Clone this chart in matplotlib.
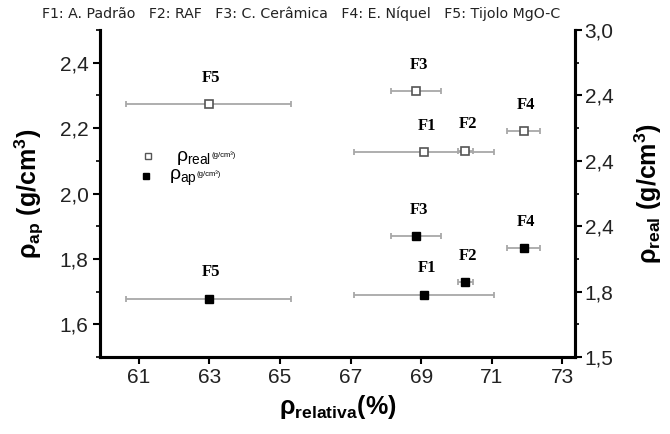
import matplotlib
matplotlib.use("Agg")
import matplotlib.pyplot as plt
from matplotlib.ticker import FixedLocator

plt.rcParams['font.family'] = ['Liberation Sans', 'DejaVu Sans']
plt.rcParams['mathtext.fontset'] = 'custom'
plt.rcParams['mathtext.rm'] = 'Liberation Sans'
plt.rcParams['mathtext.it'] = 'Liberation Sans'
plt.rcParams['mathtext.bf'] = 'Liberation Sans:bold'

# ---- data ----
labels = ["F1", "F2", "F3", "F4", "F5"]
rel_density = [69.08, 70.25, 68.85, 71.9, 62.98]
rel_err = [1.97, 0.22, 0.70, 0.47, 2.33]
rho_ap = [1.691, 1.730, 1.870, 1.833, 1.679]
rho_real = [2.127, 2.131, 2.312, 2.191, 2.273]   # in right-axis plot units

left_ticks = [1.6, 1.8, 2.0, 2.2, 2.4]
left_ticklabels = ["1,6", "1,8", "2,0", "2,2", "2,4"]
right_ticks = [1.5, 1.7, 1.9, 2.1, 2.3, 2.5]
right_ticklabels = ["1,5", "1,8", "2,4", "2,4", "2,4", "3,0"]
x_ticks = [61, 63, 65, 67, 69, 71, 73]

title = "F1: A. Padrão   F2: RAF   F3: C. Cerâmica   F4: E. Níquel   F5: Tijolo MgO-C"

fig = plt.figure(figsize=(6.7, 4.34), dpi=100)
ax = fig.add_axes([0.149, 0.177, 0.709, 0.754])
ax2 = ax.twinx()

ax.set_xlim(59.9, 73.35)
ax.set_ylim(1.5, 2.5)
ax2.set_ylim(1.5, 2.5)

err_kw = dict(fmt='none', ecolor='#a8a8a8', elinewidth=1.3, capsize=2.5, capthick=1.3)
ax.errorbar(rel_density, rho_ap, xerr=rel_err, **err_kw)
ax2.errorbar(rel_density, rho_real, xerr=rel_err, **err_kw)
ax.plot(rel_density, rho_ap, 's', color='black', markersize=6, zorder=5)
ax2.plot(rel_density, rho_real, 's', markerfacecolor='white', markeredgecolor='#555555',
         markeredgewidth=1.2, markersize=6, zorder=5)

lab_kw = dict(textcoords='offset points', xytext=(2, 19), ha='center', va='center',
              fontsize=12, fontweight='bold', family='Liberation Serif')
for xv, yv, t in zip(rel_density, rho_ap, labels):
    ax.annotate(t, (xv, yv), **lab_kw)
for xv, yv, t in zip(rel_density, rho_real, labels):
    ax2.annotate(t, (xv, yv), **lab_kw)

# axes styling
for a in (ax, ax2):
    for s in a.spines.values():
        s.set_linewidth(2.2)
    a.spines['top'].set_visible(False)

ax.xaxis.set_major_locator(FixedLocator(x_ticks))
ax.set_xticklabels([str(v) for v in x_ticks])
ax.yaxis.set_major_locator(FixedLocator(left_ticks))
ax.set_yticklabels(left_ticklabels)
ax.yaxis.set_minor_locator(FixedLocator([1.5, 1.7, 1.9, 2.1, 2.3, 2.5]))
ax2.yaxis.set_major_locator(FixedLocator(right_ticks))
ax2.set_yticklabels(right_ticklabels)
ax2.yaxis.set_minor_locator(FixedLocator([1.6, 1.8, 2.0, 2.2, 2.4]))

ax.tick_params(axis='both', which='major', direction='out', length=5, width=1.5,
               labelsize=15, colors='black', labelcolor='#222222', pad=3)
ax.tick_params(axis='y', which='minor', direction='out', length=3, width=1.2)
ax2.tick_params(axis='y', which='major', direction='out', length=5, width=1.5,
                labelsize=15, labelcolor='#222222', pad=2)
ax2.tick_params(axis='y', which='minor', direction='out', length=3, width=1.2)

ax.set_xlabel(r"$\mathbf{\rho_{relativa}}$(%)", fontsize=18, fontweight='bold', labelpad=4)
ax.set_ylabel(r"$\mathbf{\rho_{ap}}$ (g/cm$^\mathbf{3}$)", fontsize=18, fontweight='bold', labelpad=10)
ax2.set_ylabel(r"$\mathbf{\rho_{real}}$ (g/cm$^\mathbf{3}$)", fontsize=18, fontweight='bold', labelpad=14)

# in-plot legend
ax.plot([61.25], [2.115], 's', markerfacecolor='white', markeredgecolor='#555555',
        markeredgewidth=1.0, markersize=5)
ax.plot([61.2], [2.053], 's', color='black', markersize=5)
ax.text(62.05, 2.108, r"$\rho_{\mathrm{real}}$", fontsize=14, va='center')
ax.text(63.05, 2.118, "(g/cm³)", fontsize=5.5, va='center')
ax.text(61.85, 2.048, r"$\rho_{\mathrm{ap}}$", fontsize=14, va='center')
ax.text(62.65, 2.058, "(g/cm³)", fontsize=5.5, va='center')

fig.text(0.45, 0.968, title, fontsize=10.2, ha='center', va='center', color='#222222',
         family='Liberation Sans Narrow')

fig.savefig("out.png", dpi=100)
